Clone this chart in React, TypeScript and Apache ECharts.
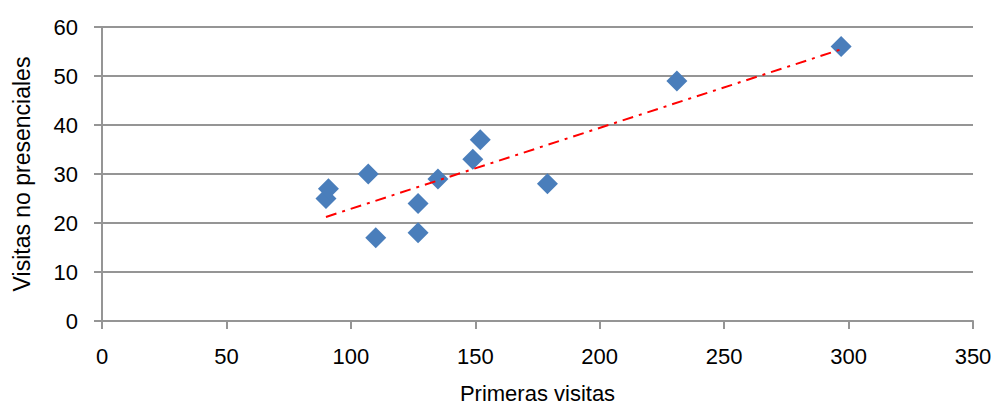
import React, { useEffect, useRef } from "react";
import * as echarts from "echarts";

const primerasVisitas = [90, 91, 107, 110, 127, 127, 135, 149, 152, 179, 231, 297];
const visitasNoPresenciales = [25, 27, 30, 17, 24, 18, 29, 33, 37, 28, 49, 56];
const xTicks = { min: 0, max: 350, interval: 50 };
const yTicks = { min: 0, max: 60, interval: 10 };
const xName = "Primeras visitas";
const yName = "Visitas no presenciales";

function trend(xs: number[], ys: number[]) {
  const n = xs.length;
  const mx = xs.reduce((a, b) => a + b, 0) / n;
  const my = ys.reduce((a, b) => a + b, 0) / n;
  let sxy = 0, sxx = 0;
  for (let i = 0; i < n; i++) {
    sxy += (xs[i] - mx) * (ys[i] - my);
    sxx += (xs[i] - mx) * (xs[i] - mx);
  }
  const b = sxy / sxx;
  const a = my - b * mx;
  const x0 = Math.min(...xs), x1 = Math.max(...xs);
  return [[x0, a + b * x0], [x1, a + b * x1]];
}

export default function App() {
  const ref = useRef<HTMLDivElement>(null);
  useEffect(() => {
    if (!ref.current) return;
    const chart = echarts.init(ref.current, undefined, { renderer: "svg" });
    const font = "'Liberation Sans', Arial, sans-serif";
    const gridColor = "#959595";
    chart.setOption({
      animation: false,
      backgroundColor: "#ffffff",
      grid: { left: 102, right: 22, top: 27, bottom: 85, containLabel: false, outerBoundsMode: "none" },
      xAxis: {
        type: "value",
        min: xTicks.min,
        max: xTicks.max,
        interval: xTicks.interval,
        name: xName,
        nameLocation: "middle",
        nameGap: 61,
        nameTextStyle: { fontFamily: font, fontSize: 22, color: "#000", lineHeight: 22 },
        axisLine: { show: true, lineStyle: { color: gridColor, width: 2 } },
        axisTick: { show: true, length: 8, lineStyle: { color: gridColor, width: 2 } },
        axisLabel: { fontFamily: font, fontSize: 22, color: "#000", margin: 24 },
        splitLine: { show: false },
      },
      yAxis: {
        type: "value",
        min: yTicks.min,
        max: yTicks.max,
        interval: yTicks.interval,
        name: yName,
        nameLocation: "middle",
        nameGap: 69,
        nameTextStyle: { fontFamily: font, fontSize: 23, color: "#000" },
        axisLine: { show: true, lineStyle: { color: gridColor, width: 2 } },
        axisTick: { show: true, length: 8, lineStyle: { color: gridColor, width: 2 } },
        axisLabel: { fontFamily: font, fontSize: 22, color: "#000", margin: 24 },
        splitLine: { show: true, lineStyle: { color: gridColor, width: 2 } },
      },
      series: [
        {
          type: "scatter",
          symbol: "diamond",
          symbolSize: 21,
          itemStyle: { color: "#4a7ebb", opacity: 1 },
          data: primerasVisitas.map((x, i) => [x, visitasNoPresenciales[i]]),
          z: 2,
        },
        {
          type: "line",
          data: trend(primerasVisitas, visitasNoPresenciales),
          showSymbol: false,
          symbol: "none",
          lineStyle: { color: "#ff0000", width: 2, type: [11, 6, 3, 6] },
          z: 3,
        },
      ],
    });
    return () => chart.dispose();
  }, []);
  return <div ref={ref} style={{ width: 995, height: 406, position: "absolute", left: 0, top: 0 }} />;
}
